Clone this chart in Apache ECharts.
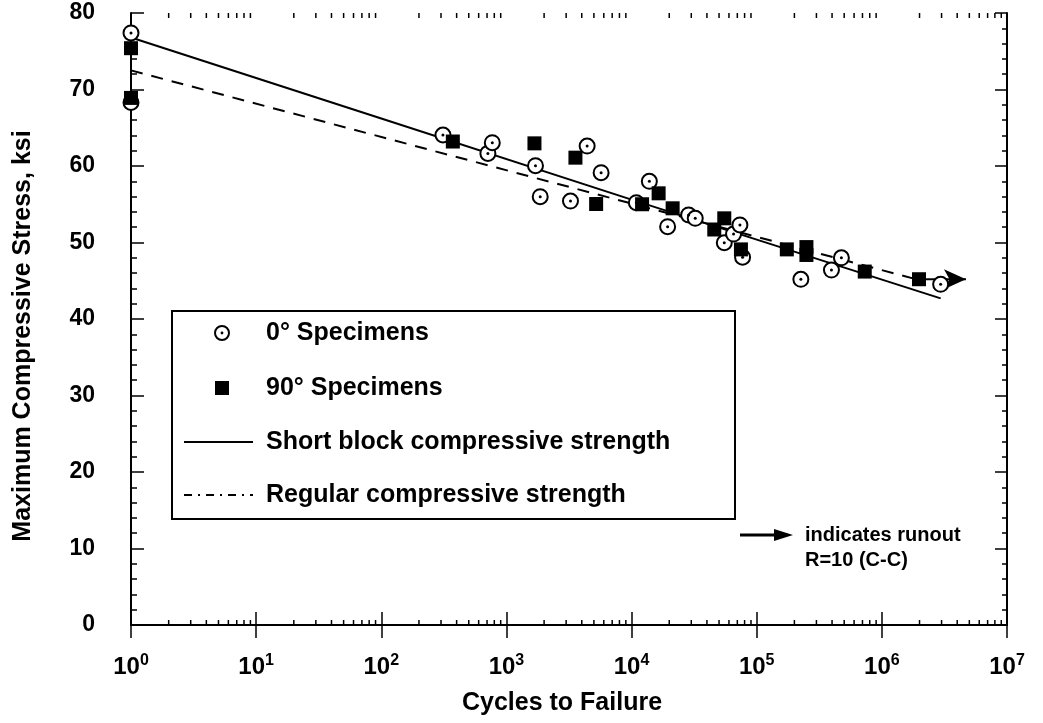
<!DOCTYPE html>
<html>
<head>
<meta charset="utf-8">
<script src="https://cdn.jsdelivr.net/npm/echarts@6/dist/echarts.min.js"></script>
<style>
html,body{margin:0;padding:0;background:#fff;}
#chart{width:1043px;height:723px;}
</style>
</head>
<body>
<div id="chart"></div>
<script>
// ---- data ----
const specimens0 = [
  [1, 77.4], [1, 68.3], [311, 64.05], [711, 61.65], [771, 63.05],
  [1707, 60.04], [1862, 55.99], [3250, 55.42], [4415, 62.6], [5710, 59.13],
  [10920, 55.2], [13870, 58.0], [19410, 52.07], [28560, 53.6], [32270, 53.16],
  [55050, 49.97], [65300, 51.1], [73400, 52.3], [77100, 48.07],
  [225300, 45.19], [395500, 46.4], [475000, 48.0], [2950000, 44.53]
];
const specimens90 = [
  [1, 75.4], [1, 68.9], [373, 63.2], [1675, 62.96], [3560, 61.09],
  [5210, 55.03], [12130, 55.0], [16450, 56.43], [21290, 54.47],
  [45800, 51.7], [55050, 53.16], [74800, 49.1], [174000, 49.1],
  [249600, 49.4], [249600, 48.37], [730000, 46.2], [1980000, 45.2]
];
const shortBlockLine = [[1, 76.8], [100, 66.2], [10000, 55.6], [2950000, 42.7]];
const regularLine = [[1, 72.5], [2200000, 44.9]];
const runoutArrow = [[1980000, 45.2], [4700000, 45.2]];
const yTicks = { min: 0, max: 80, interval: 10 };
const xRange = { min: 1, max: 10000000 };
const decadeMultipliers = [2, 3, 4, 5, 6, 7, 8, 9];
const decades = [1, 10, 100, 1000, 10000, 100000, 1000000];
const legendLabels = ['0\u00b0 Specimens', '90\u00b0 Specimens', 'Short block compressive strength', 'Regular compressive strength'];
const xTitle = 'Cycles to Failure';
const yTitle = 'Maximum Compressive Stress, ksi';
const noteLines = ['indicates runout', 'R=10 (C-C)'];

// minor log ticks (axis decoration)
const minorTicks = [];
decades.forEach(d => decadeMultipliers.forEach(m => minorTicks.push([d * m, 0])));

const FONT = '"Liberation Sans", Arial, Helvetica, sans-serif';
const chart = echarts.init(document.getElementById('chart'));

const axisLine = { show: true, lineStyle: { color: '#000', width: 2 } };

const option = {
  animation: false,
  backgroundColor: '#fff',
  grid: { left: 131, right: 36, top: 13, bottom: 98 },
  xAxis: [
    {
      type: 'log', logBase: 10, min: xRange.min, max: xRange.max, position: 'bottom',
      axisLine: axisLine,
      axisTick: { show: true, inside: true, length: 13, lineStyle: { color: '#000', width: 1.5 } },
      splitLine: { show: false },
      axisLabel: {
        margin: 28,
        formatter: v => '{b|10}{s|' + Math.round(Math.log10(v)) + '}',
        rich: {
          b: { fontFamily: FONT, fontWeight: 'bold', fontSize: 24, color: '#000', lineHeight: 28 },
          s: { fontFamily: FONT, fontWeight: 'bold', fontSize: 16, color: '#000', verticalAlign: 'top', lineHeight: 16 }
        }
      }
    },
    {
      type: 'log', logBase: 10, min: xRange.min, max: xRange.max, position: 'top',
      axisLine: axisLine,
      axisTick: { show: true, inside: true, length: 13, lineStyle: { color: '#000', width: 1.5 } },
      splitLine: { show: false },
      axisLabel: { show: false }
    }
  ],
  yAxis: [
    {
      type: 'value', min: yTicks.min, max: yTicks.max, interval: yTicks.interval, position: 'left',
      axisLine: axisLine,
      axisTick: { show: true, inside: true, length: 13, lineStyle: { color: '#000', width: 1.5 } },
      minorTick: { show: true, splitNumber: 5, length: 6, lineStyle: { color: '#000', width: 1.5 } },
      splitLine: { show: false },
      axisLabel: { margin: 36, fontFamily: FONT, fontWeight: 'bold', fontSize: 23, color: '#000' }
    },
    {
      type: 'value', min: yTicks.min, max: yTicks.max, interval: yTicks.interval, position: 'right',
      axisLine: axisLine,
      axisTick: { show: true, inside: true, length: 12, lineStyle: { color: '#000', width: 1.5 } },
      minorTick: { show: true, splitNumber: 5, length: 5, lineStyle: { color: '#000', width: 1.5 } },
      splitLine: { show: false },
      axisLabel: { show: false }
    }
  ],
  series: [
    {
      type: 'custom', name: 'minorTicks', data: minorTicks, silent: true, z: 1, clip: false,
      renderItem: function (params, api) {
        const v = api.value(0);
        const b = api.coord([v, yTicks.min]);
        const t = api.coord([v, yTicks.max]);
        const st = { stroke: '#000', lineWidth: 1.5 };
        return {
          type: 'group',
          children: [
            { type: 'line', shape: { x1: b[0], y1: b[1], x2: b[0], y2: b[1] - 5 }, style: st },
            { type: 'line', shape: { x1: t[0], y1: t[1], x2: t[0], y2: t[1] + 5 }, style: st }
          ]
        };
      }
    },
    {
      type: 'line', name: legendLabels[2], data: shortBlockLine, symbol: 'none', clip: false,
      lineStyle: { color: '#000', width: 2 }, z: 2
    },
    {
      type: 'line', name: legendLabels[3], data: regularLine, symbol: 'none', clip: false,
      lineStyle: { color: '#000', width: 2, type: [12, 9] }, z: 2
    },
    {
      type: 'line', name: 'runout', clip: false, z: 3,
      data: [
        { value: runoutArrow[0], symbol: 'none' },
        { value: runoutArrow[1], symbol: 'arrow', symbolSize: [15, 22], symbolRotate: -90 }
      ],
      showSymbol: true,
      lineStyle: { color: '#000', width: 2 },
      itemStyle: { color: '#000' }
    },
    {
      type: 'scatter', name: legendLabels[0], data: specimens0, symbol: 'circle', symbolSize: 15, clip: false, z: 4,
      itemStyle: { color: '#fff', borderColor: '#000', borderWidth: 2, opacity: 1 }
    },
    {
      type: 'scatter', name: 'dots0', data: specimens0, symbol: 'circle', symbolSize: 3, clip: false, z: 5,
      itemStyle: { color: '#000', opacity: 1 }
    },
    {
      type: 'scatter', name: legendLabels[1], data: specimens90, symbol: 'rect', symbolSize: 14, clip: false, z: 6,
      itemStyle: { color: '#000', opacity: 1 }
    }
  ],
  graphic: [
    // axis titles
    { type: 'text', x: 23, y: 336, rotation: Math.PI / 2, style: { text: yTitle, font: 'bold 25px ' + FONT, fill: '#000', align: 'center', verticalAlign: 'middle' }, z: 11 },
    { type: 'text', x: 562, y: 703, style: { text: xTitle, font: 'bold 25px ' + FONT, fill: '#000', align: 'center', verticalAlign: 'middle' }, z: 11 },
    // legend box
    { type: 'rect', shape: { x: 172, y: 311, width: 563, height: 208 }, style: { fill: '#fff', stroke: '#000', lineWidth: 2 }, z: 10 },
    { type: 'circle', shape: { cx: 222, cy: 333, r: 7 }, style: { fill: '#fff', stroke: '#000', lineWidth: 2 }, z: 11 },
    { type: 'circle', shape: { cx: 222, cy: 333, r: 1.4 }, style: { fill: '#000' }, z: 12 },
    { type: 'rect', shape: { x: 215, y: 381, width: 14, height: 14 }, style: { fill: '#000' }, z: 11 },
    { type: 'line', shape: { x1: 184, y1: 442, x2: 253, y2: 442 }, style: { stroke: '#000', lineWidth: 2 }, z: 11 },
    { type: 'line', shape: { x1: 184, y1: 495, x2: 253, y2: 495 }, style: { stroke: '#000', lineWidth: 2, lineDash: [8, 6, 2, 6] }, z: 11 },
    { type: 'text', x: 266, y: 333, style: { text: legendLabels[0], font: 'bold 25px ' + FONT, fill: '#000', verticalAlign: 'middle' }, z: 11 },
    { type: 'text', x: 266, y: 388, style: { text: legendLabels[1], font: 'bold 25px ' + FONT, fill: '#000', verticalAlign: 'middle' }, z: 11 },
    { type: 'text', x: 266, y: 442, style: { text: legendLabels[2], font: 'bold 25px ' + FONT, fill: '#000', verticalAlign: 'middle' }, z: 11 },
    { type: 'text', x: 266, y: 495, style: { text: legendLabels[3], font: 'bold 25px ' + FONT, fill: '#000', verticalAlign: 'middle' }, z: 11 },
    // runout note
    { type: 'line', shape: { x1: 740, y1: 535, x2: 778, y2: 535 }, style: { stroke: '#000', lineWidth: 3 }, z: 11 },
    { type: 'polygon', shape: { points: [[774, 529], [793, 535], [774, 541]] }, style: { fill: '#000' }, z: 11 },
    { type: 'text', x: 805, y: 535, style: { text: noteLines[0], font: 'bold 20px ' + FONT, fill: '#000', verticalAlign: 'middle' }, z: 11 },
    { type: 'text', x: 805, y: 560, style: { text: noteLines[1], font: 'bold 20px ' + FONT, fill: '#000', verticalAlign: 'middle' }, z: 11 }
  ]
};
chart.setOption(option);
</script>
</body>
</html>
